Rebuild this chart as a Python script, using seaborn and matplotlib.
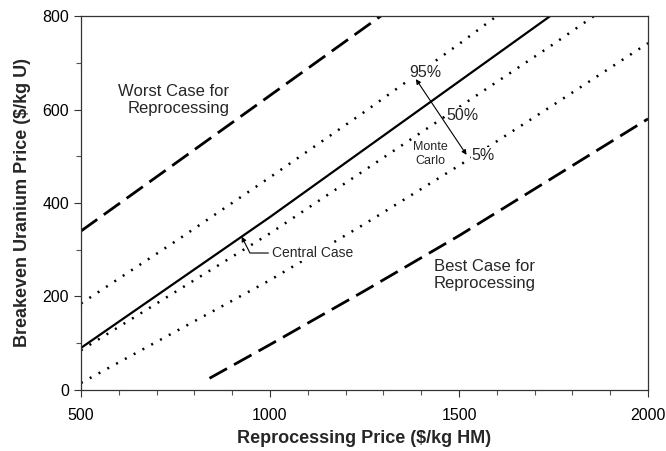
import seaborn as sns
import matplotlib.pyplot as plt
import pandas as pd

# breakeven uranium price ($/kg U) vs reprocessing price ($/kg HM)
central_x = [500, 750, 1000, 1250, 1500, 1750]
central_y = [90, 230, 370, 515, 660, 805]

mc95_x = [500, 750, 1000, 1250, 1500, 1750]
mc95_y = [185, 318, 455, 595, 740, 890]

mc50_x = [500, 750, 1000, 1250, 1500, 1750, 2000]
mc50_y = [85, 210, 335, 470, 605, 740, 880]

mc5_x = [500, 750, 1000, 1250, 1500, 1750, 2000]
mc5_y = [15, 125, 235, 355, 480, 610, 742]

worst_x = [500, 750, 1000, 1250, 1500]
worst_y = [340, 485, 630, 775, 920]

best_x = [840, 1000, 1250, 1500, 1750, 2000]
best_y = [25, 97, 212, 330, 455, 580]

x_ticks = [500, 1000, 1500, 2000]
y_ticks = [0, 200, 400, 600, 800]

sns.set_style('ticks')
plt.rcParams['font.family'] = ['Liberation Sans', 'DejaVu Sans']

fig = plt.figure(figsize=(6.66, 4.51), dpi=100)
ax = fig.add_axes([0.1216, 0.1353, 0.8514, 0.8292])

dash_long = (0, (7.2, 2.9))
dots = (0, (0.8, 3.2))

curves = [
    (worst_x, worst_y, dash_long, 2.0),
    (best_x, best_y, dash_long, 2.0),
    (mc95_x, mc95_y, dots, 1.8),
    (mc50_x, mc50_y, dots, 1.8),
    (mc5_x, mc5_y, dots, 1.8),
    (central_x, central_y, '-', 1.6),
]
for xs, ys, ls, lw in curves:
    df = pd.DataFrame({'x': xs, 'y': ys})
    sns.lineplot(data=df, x='x', y='y', ax=ax, color='black', linestyle=ls, lw=lw)

ax.set_xlim(500, 2000)
ax.set_ylim(0, 800)
ax.set_xticks(x_ticks)
ax.set_yticks(y_ticks)
ax.set_xticks(range(500, 2001, 100), minor=True)
ax.set_yticks(range(0, 801, 100), minor=True)
ax.tick_params(which='major', length=5, width=0.8, labelsize=11.5, colors='#333333', labelcolor='black')
ax.tick_params(which='minor', length=3.5, width=0.8, colors='#555555')
ax.tick_params(axis='x', pad=8)
for side in ['top', 'right', 'left', 'bottom']:
    ax.spines[side].set_visible(True)
    ax.spines[side].set_linewidth(0.9)
    ax.spines[side].set_color('#333333')

ax.set_xlabel('Reprocessing Price ($/kg HM)', fontsize=13, fontweight='bold', labelpad=5)
ax.set_ylabel('Breakeven Uranium Price ($/kg U)', fontsize=13, fontweight='bold', labelpad=8)

ax.text(892, 620, 'Worst Case for\nReprocessing', ha='right', va='center', fontsize=12, linespacing=1.15)
ax.text(1434, 246, 'Best Case for\nReprocessing', ha='left', va='center', fontsize=12, linespacing=1.15)

white = dict(facecolor='white', edgecolor='none', pad=0.5)
ax.text(1368, 680, '95%', ha='left', va='center', fontsize=11.5, bbox=white)
ax.text(1466, 588, '50%', ha='left', va='center', fontsize=11.5, bbox=white)
ax.text(1534, 502, '5%', ha='left', va='center', fontsize=11.5, bbox=white)
ax.text(1423, 505, 'Monte\nCarlo', ha='center', va='center', fontsize=9, linespacing=1.15, bbox=white)

ax.annotate('', xy=(1386, 665), xytext=(1520, 503),
            arrowprops=dict(arrowstyle='<|-|>', color='black', lw=0.8,
                            mutation_scale=7, shrinkA=0, shrinkB=0))
ax.annotate('Central Case', xy=(925, 328), xytext=(1005, 293), ha='left', va='center', fontsize=10,
            bbox=white,
            arrowprops=dict(arrowstyle='-|>', color='black', lw=0.8, mutation_scale=7,
                            connectionstyle='angle,angleA=0,angleB=117,rad=0', shrinkA=2, shrinkB=0))

fig.savefig('out.png', dpi=100)
